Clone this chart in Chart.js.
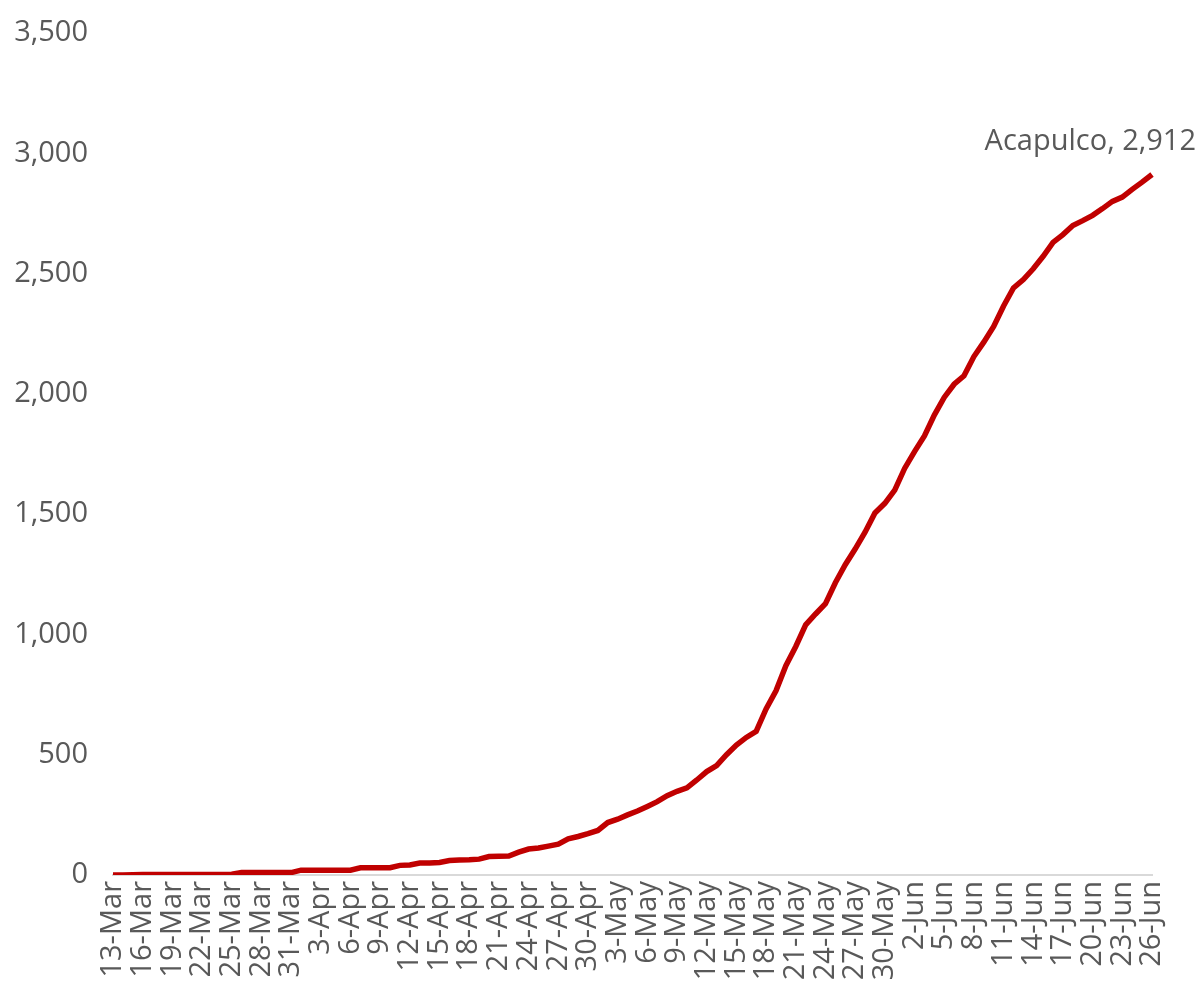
<!DOCTYPE html>
<html>
<head>
<meta charset="utf-8">
<script src="https://cdn.jsdelivr.net/npm/chart.js@4"></script>
<style>
  body { margin: 0; background: #fff; }
  #wrap { width: 1201px; height: 988px; position: relative; }
</style>
</head>
<body>
<div id="wrap"><canvas id="myChart"></canvas></div>
<script>
// Casos acumulados - Acapulco
const seriesName = 'Acapulco';
const startDay = new Date(2020, 2, 13);
const numDays = 106;
const monthNames = ['Jan', 'Feb', 'Mar', 'Apr', 'May', 'Jun', 'Jul'];

const cases = [
  0, 0, 1, 2, 2, 2, 2, 2, 2, 2,
  2, 2, 3, 10, 10, 10, 10, 10, 10, 20,
  20, 20, 20, 20, 20, 30, 30, 30, 30, 40,
  42, 50, 50, 52, 60, 62, 63, 66, 77, 78,
  79, 95, 108, 112, 120, 128, 150, 160, 172, 185,
  218, 232, 250, 266, 285, 305, 330, 348, 362, 395,
  430, 455, 500, 540, 572, 597, 690, 766, 870, 950,
  1040, 1085, 1128, 1215, 1290, 1355, 1425, 1505, 1545, 1600,
  1690, 1760, 1825, 1912, 1985, 2040, 2075, 2155, 2215, 2280,
  2365, 2440, 2475, 2520, 2572, 2630, 2662, 2700, 2720, 2742,
  2770, 2800, 2818, 2850, 2880, 2912
];

const yTicks = [0, 500, 1000, 1500, 2000, 2500, 3000, 3500];

const dayLabels = [];
for (let i = 0; i < numDays; i++) {
  const d = new Date(startDay.getTime() + i * 86400000);
  dayLabels.push(d.getDate() + '-' + monthNames[d.getMonth()]);
}

const fontFam = 'Open Sans';
const grey = '#595959';

const endLabel = {
  id: 'endLabel',
  afterDatasetsDraw(chart) {
    const c = chart.ctx;
    const last = cases.length - 1;
    const x = chart.scales.x.getPixelForValue(last);
    const y = chart.scales.y.getPixelForValue(cases[last]);
    c.save();
    c.font = '29px "' + fontFam + '"';
    c.fillStyle = grey;
    c.textAlign = 'right';
    c.textBaseline = 'middle';
    c.fillText(seriesName + ', ' + cases[last].toLocaleString('en-US'), x + 44, y - 33);
    c.restore();
  }
};

const ctx = document.getElementById('myChart');

new Chart(ctx, {
  type: 'line',
  data: {
    labels: dayLabels,
    datasets: [{
      label: seriesName,
      data: cases,
      borderColor: '#c00000',
      borderWidth: 5.5,
      pointRadius: 0,
      tension: 0,
      fill: false
    }]
  },
  options: {
    responsive: true,
    maintainAspectRatio: false,
    animation: false,
    layout: { padding: { top: 33, right: 49, left: 0, bottom: 0 } },
    scales: {
      x: {
        offset: false,
        grid: { display: false, drawTicks: false },
        border: { display: true, color: '#d9d9d9', width: 2 },
        afterFit: (scale) => { scale.height = 113; },
        ticks: {
          autoSkip: false,
          minRotation: 90,
          maxRotation: 90,
          padding: 6,
          color: grey,
          font: { size: 29, family: fontFam },
          callback: function (val, i) {
            return i % 3 === 0 ? dayLabels[i] : null;
          }
        }
      },
      y: {
        min: 0,
        max: 3500,
        afterFit: (scale) => {
          scale.width = 113;
          scale.paddingTop = 0;
          scale.paddingBottom = 0;
        },
        afterBuildTicks: (scale) => { scale.ticks = yTicks.map(v => ({ value: v })); },
        grid: { display: false, drawTicks: false },
        border: { display: false },
        ticks: {
          padding: 25,
          color: grey,
          font: { size: 29, family: fontFam },
          callback: (v) => v.toLocaleString('en-US')
        }
      }
    },
    plugins: {
      legend: { display: false },
      tooltip: { enabled: false }
    }
  },
  plugins: [endLabel]
});
</script>
</body>
</html>
